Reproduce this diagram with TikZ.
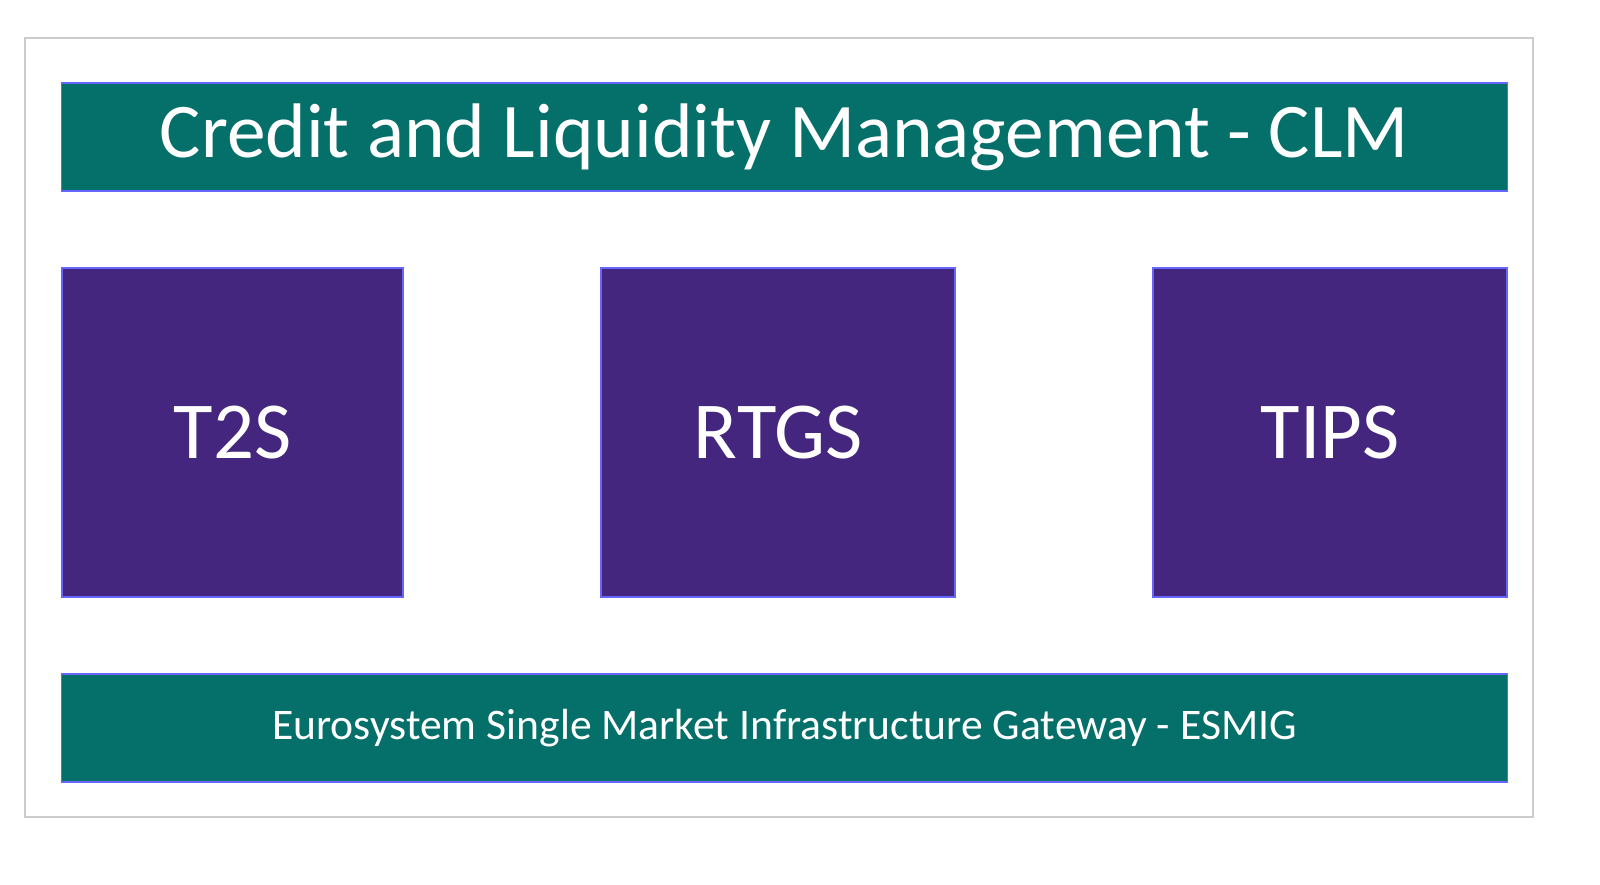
\documentclass[tikz,border=0pt]{standalone}
\usepackage{fontspec}
\setmainfont{Carlito}
\usepackage{xcolor}
\usetikzlibrary{positioning}
\definecolor{clmteal}{HTML}{056F6A}
\definecolor{svcpurple}{HTML}{45267E}
\tikzset{bar node/.style={rectangle,fill=clmteal,draw=blue!60,line width=0.4pt,text=white,minimum width=14.45cm,minimum height=1.08cm,inner sep=0pt},
         service node/.style={rectangle,fill=svcpurple,draw=blue!60,line width=0.4pt,text=white,minimum height=3.29cm,inner sep=0pt,font=\fontsize{23}{28}\selectfont}}

\begin{document}
\begin{tikzpicture}[x=0.01cm,y=-0.01cm]
\useasboundingbox (0,0) rectangle (1600,885);
\draw[gray!40,line width=0.6pt] (25,38) rectangle (1533,817);

\node[bar node,font=\fontsize{22}{26}\selectfont] (CLM) at (784.5,137) {Credit and Liquidity Management - CLM};

\node[service node,minimum width=3.41cm] (T2S) at (232.5,432.5) {T2S};
\node[service node,minimum width=3.54cm] (RTGS) at (778,432.5) {RTGS};
\node[service node,minimum width=3.54cm] (TIPS) at (1330,432.5) {TIPS};

\node[bar node,font=\fontsize{12.4}{15}\selectfont] (ESMIG) at (784.5,728) {Eurosystem Single Market Infrastructure Gateway - ESMIG};
\end{tikzpicture}
\end{document}
